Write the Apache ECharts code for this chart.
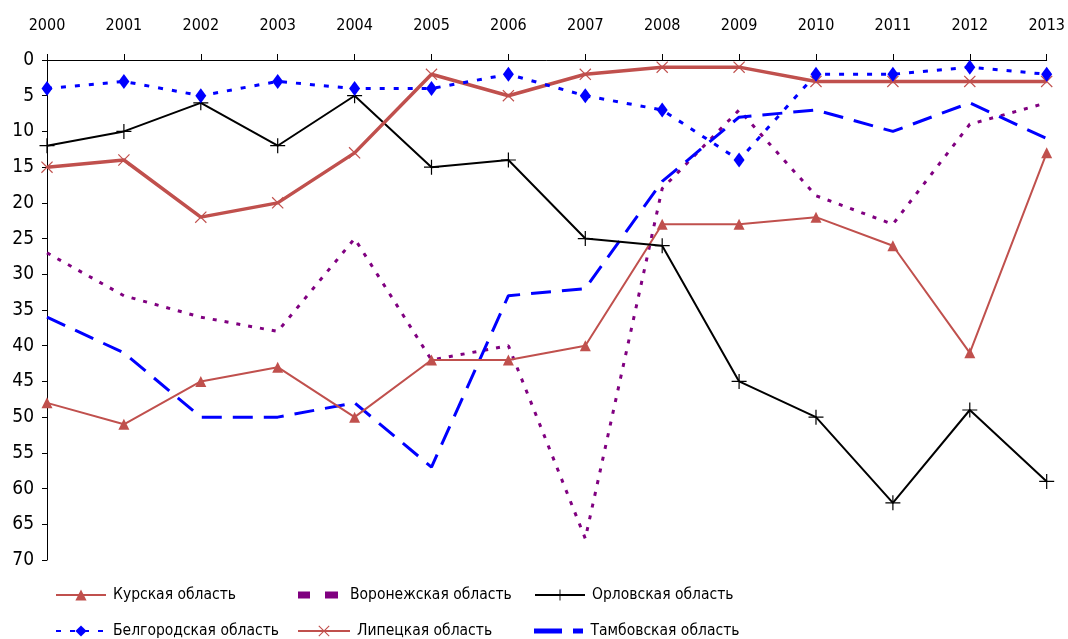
<!DOCTYPE html>
<html>
<head>
<meta charset="utf-8">
<script src="https://cdn.jsdelivr.net/npm/echarts@6/dist/echarts.min.js"></script>
<style>
  html, body { margin: 0; padding: 0; background: #fff; }
  #chart { width: 1068px; height: 639px; }
</style>
</head>
<body>
<div id="chart"></div>
<script>
// годы (верхняя ось)
const years = ['2000', '2001', '2002', '2003', '2004', '2005', '2006', '2007', '2008', '2009', '2010', '2011', '2012', '2013'];

// места областей по годам
const kursk     = [48, 51, 45, 43, 50, 42, 42, 40, 23, 23, 22, 26, 41, 13];
const voronezh  = [27, 33, 36, 38, 25, 42, 40, 67, 18, 7, 19, 23, 9, 6];
const orel      = [12, 10, 6, 12, 5, 15, 14, 25, 26, 45, 50, 62, 49, 59];
const belgorod  = [4, 3, 5, 3, 4, 4, 2, 5, 7, 14, 2, 2, 1, 2];
const lipetsk   = [15, 14, 22, 20, 13, 2, 5, 2, 1, 1, 3, 3, 3, 3];
const tambov    = [36, 41, 50, 50, 48, 57, 33, 32, 17, 8, 7, 10, 6, 11];

const names = ['Курская область', 'Воронежская область', 'Орловская область',
               'Белгородская область', 'Липецкая область', 'Тамбовская область'];

const RED = '#C0504D';
const BLUE = '#0000FF';
const PURPLE = '#800080';
const FONT = 'DejaVu Sans Condensed';

const plusPath = 'path://M4.6,0h0.8v10h-0.8zM0,4.6h10v0.8h-10z';
const crossPath = 'path://M0,0.7L0.7,0L5,4.3L9.3,0L10,0.7L5.7,5L10,9.3L9.3,10L5,5.7L0.7,10L0,9.3L4.3,5Z';
// значки легенды для линий без маркеров
const purpleDashIcon = 'path://M0,0h12v7h-12zM27,0h13v7h-13z';
const blueDashIcon = 'path://M0,0h28v5h-28zM39,0h10v5h-10z';

const chart = echarts.init(document.getElementById('chart'));

// по одной легенде на каждую подпись, чтобы расставить как в оригинале
const legendPos = [
  { left: 55, top: 587 }, { left: 298, top: 587 }, { left: 534, top: 587 },
  { left: 55, top: 623 }, { left: 297, top: 623 }, { left: 534, top: 623 }
];
const legendIcons = [null, purpleDashIcon, null, null, null, blueDashIcon];
const legendSizes = [[50, 14], [50, 7], [50, 14], [50, 14], [52, 14], [50, 5]];
const legends = names.map((n, i) => ({
  data: [legendIcons[i] ? { name: n, icon: legendIcons[i] } : n],
  left: legendPos[i].left,
  top: legendPos[i].top,
  padding: 0,
  itemWidth: legendSizes[i][0],
  itemHeight: legendSizes[i][1],
  itemGap: 0,
  textStyle: { fontFamily: FONT, fontSize: 15.5, color: '#000', padding: [0, 0, 0, 2] }
}));

const option = {
  backgroundColor: '#fff',
  animation: false,
  legend: legends,
  grid: { left: 47, right: 19, top: 60, bottom: 79 },
  xAxis: {
    type: 'category',
    position: 'top',
    boundaryGap: false,
    data: years,
    axisLine: { lineStyle: { color: '#000', width: 1 } },
    axisTick: { alignWithLabel: true, length: 6, lineStyle: { color: '#000' } },
    axisLabel: { color: '#000', fontFamily: FONT, fontSize: 16, margin: 26 }
  },
  yAxis: {
    type: 'value',
    inverse: true,
    min: 0,
    max: 70,
    interval: 5,
    axisLine: { show: true, lineStyle: { color: '#000', width: 1 } },
    axisTick: { show: true, length: 5, lineStyle: { color: '#000' } },
    splitLine: { show: false },
    axisLabel: { color: '#000', fontFamily: FONT, fontSize: 19, margin: 13 }
  },
  series: [
    {
      name: names[0], type: 'line', data: kursk, z: 3,
      symbol: 'triangle', symbolSize: 11,
      lineStyle: { color: RED, width: 2 },
      itemStyle: { color: RED }
    },
    {
      name: names[1], type: 'line', data: voronezh, z: 2,
      symbol: 'none',
      lineStyle: { color: PURPLE, width: 3, type: [4, 8] },
      itemStyle: { color: PURPLE }
    },
    {
      name: names[2], type: 'line', data: orel, z: 3,
      symbol: plusPath, symbolSize: 15,
      lineStyle: { color: '#000', width: 2 },
      itemStyle: { color: '#000' }
    },
    {
      name: names[3], type: 'line', data: belgorod, z: 4,
      symbol: 'diamond', symbolSize: [11, 15],
      lineStyle: { color: BLUE, width: 3, type: [5, 9] },
      itemStyle: { color: BLUE }
    },
    {
      name: names[4], type: 'line', data: lipetsk, z: 3,
      symbol: crossPath, symbolSize: 12,
      lineStyle: { color: RED, width: 3.5 },
      itemStyle: { color: RED }
    },
    {
      name: names[5], type: 'line', data: tambov, z: 2,
      symbol: 'none',
      lineStyle: { color: BLUE, width: 3, type: [20, 11] },
      itemStyle: { color: BLUE }
    }
  ]
};

chart.setOption(option);
</script>
</body>
</html>
